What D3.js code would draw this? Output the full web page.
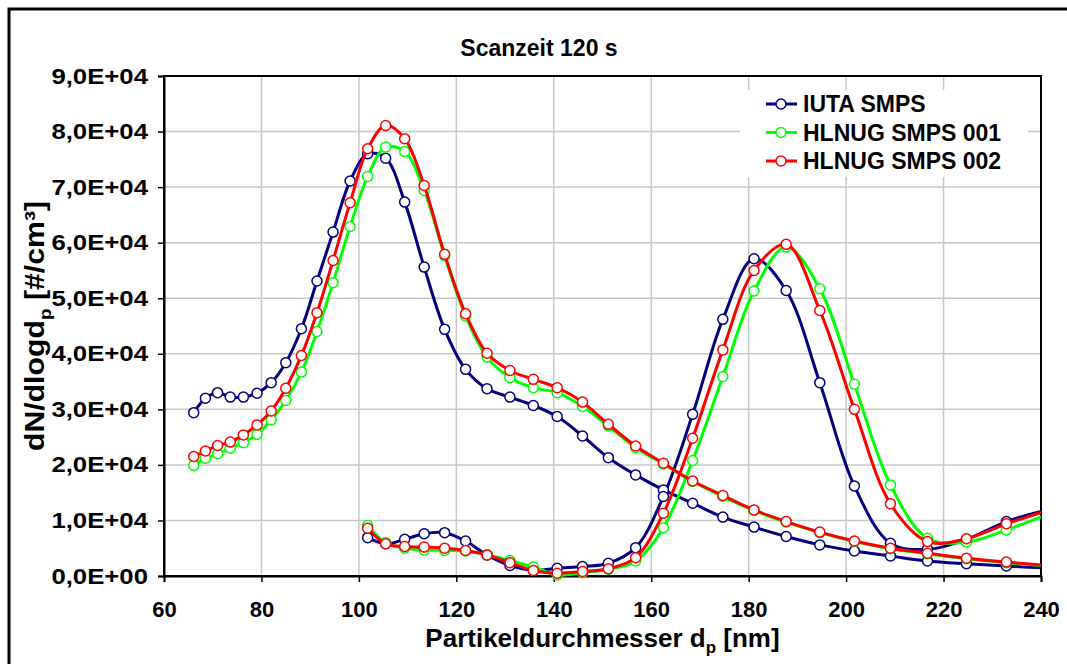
<!DOCTYPE html>
<html>
<head>
<meta charset="utf-8">
<script src="https://cdn.jsdelivr.net/npm/d3@7"></script>
<style>
  body { margin: 0; background: #fff; }
  svg text { font-family: Arial, "Liberation Sans", sans-serif; font-weight: bold; fill: #000; }
</style>
</head>
<body>
<div id="chart"></div>
<script>
// particle diameters (nm), one per SMPS channel
var diam = [66.1, 68.5, 71.0, 73.6, 76.3, 79.1, 82.0, 85.0, 88.2, 91.4, 94.7, 98.2,
            101.8, 105.5, 109.4, 113.4, 117.6, 121.9, 126.3, 131.0, 135.8, 140.7, 145.9,
            151.2, 156.8, 162.5, 168.5, 174.7, 181.1, 187.7, 194.6, 201.7, 209.1, 216.7,
            224.7, 232.9, 241.4];
// second scan starts at 101.8 nm
var diam2 = diam.slice(12);

// first scan
var iutaA = [29400, 32000, 33000, 32200, 32200, 32900, 34800, 38400, 44500, 53100, 61900, 71100,
             76000, 75200, 67300, 55600, 44400, 37200, 33700, 32200, 30700, 28700, 25200,
             21300, 18200, 15500, 13100, 10600, 8800, 7100, 5600, 4500, 3600, 2700,
             2200, 1800, 1400];
var hl001A = [19900, 21200, 22000, 23000, 24000, 25500, 28100, 31600, 36700, 44000, 52800, 62900,
              71900, 77200, 76400, 69400, 57600, 46800, 39400, 35700, 33900, 33000, 30500,
              27000, 23100, 20200, 17000, 14300, 11800, 9700, 7800, 6200, 4900, 4000,
              3100, 2400, 1800];
var hl002A = [21500, 22500, 23500, 24100, 25400, 27200, 29700, 33800, 39700, 47400, 56800, 67200,
              76900, 81100, 78700, 70300, 57900, 47200, 40100, 37000, 35400, 33900, 31300,
              27300, 23400, 20300, 17100, 14500, 11900, 9800, 7900, 6300, 5000, 4100,
              3200, 2500, 1900];
// second scan
var iutaB = [6900, 5800, 6600, 7600, 7800, 6300, 3800, 1900, 1000, 1400, 1700,
             2300, 5100, 14300, 29100, 46200, 57100, 51400, 34800, 16200, 5900, 4800,
             6600, 9800, 11900];
var hl001B = [9100, 6000, 5000, 4700, 4600, 4500, 3800, 2800, 1600, 200, 600,
              1200, 2700, 8700, 20800, 35900, 51300, 59200, 51700, 34500, 16400, 6800,
              6100, 8300, 11100];
var hl002B = [8600, 5800, 5300, 5200, 5000, 4600, 3800, 2400, 1000, 500, 800,
              1300, 3300, 11300, 24800, 40700, 55000, 59700, 47800, 30000, 13000, 6200,
              6700, 9400, 11800];

var seriesNames = ["IUTA SMPS", "HLNUG SMPS 001", "HLNUG SMPS 002"];
var seriesColors = ["#000080", "#00ff00", "#ff0000"];

var xTicks = [60, 80, 100, 120, 140, 160, 180, 200, 220, 240];
var yTicks = [0, 10000, 20000, 30000, 40000, 50000, 60000, 70000, 80000, 90000];
var yTickLabels = ["0,0E+00", "1,0E+04", "2,0E+04", "3,0E+04", "4,0E+04",
                   "5,0E+04", "6,0E+04", "7,0E+04", "8,0E+04", "9,0E+04"];

var W = 1067, H = 664;
var margin = {top: 76, right: 26, bottom: 88, left: 164},
    width = W - margin.left - margin.right,
    height = H - margin.top - margin.bottom;

var root = d3.select("#chart").append("svg")
    .attr("width", W).attr("height", H);

// outer frame
root.append("rect")
    .attr("x", 9).attr("y", 9).attr("width", W + 20).attr("height", H + 20)
    .attr("fill", "none").attr("stroke", "#000").attr("stroke-width", 3);

var svg = root.append("g")
    .attr("transform", "translate(" + margin.left + "," + margin.top + ")");

var x = d3.scaleLinear().domain([60, 240]).range([0, width]);
var y = d3.scaleLinear().domain([0, 90000]).range([height, 0]);

// grid
svg.append("g").selectAll("line").data(xTicks.slice(1, -1)).enter().append("line")
    .attr("x1", function(d) { return x(d); }).attr("x2", function(d) { return x(d); })
    .attr("y1", 0).attr("y2", height)
    .attr("stroke", "#c8c8c8").attr("stroke-width", 1.5);
svg.append("g").selectAll("line").data(yTicks.slice(1, -1)).enter().append("line")
    .attr("x1", 0).attr("x2", width)
    .attr("y1", function(d) { return y(d); }).attr("y2", function(d) { return y(d); })
    .attr("stroke", "#c8c8c8").attr("stroke-width", 1.5);

// plot frame
svg.append("rect").attr("width", width).attr("height", height)
    .attr("fill", "none").attr("stroke", "#000").attr("stroke-width", 2);

// axes
var xAxis = svg.append("g")
    .attr("transform", "translate(0," + height + ")")
    .call(d3.axisBottom(x).tickValues(xTicks).tickSize(6).tickPadding(19).tickFormat(d3.format("d")));
var yAxis = svg.append("g")
    .call(d3.axisLeft(y).tickValues(yTicks).tickSize(6).tickPadding(10)
      .tickFormat(function(d, i) { return yTickLabels[i]; }));
[xAxis, yAxis].forEach(function(a) {
  a.select(".domain").attr("stroke", "#000").attr("stroke-width", 2);
  a.selectAll(".tick line").attr("stroke", "#000").attr("stroke-width", 1.5);
  a.selectAll("text").attr("font-size", 22).attr("font-family", "Arial, 'Liberation Sans', sans-serif")
    .attr("font-weight", "bold").attr("fill", "#000");
});
// the y labels in the original are drawn a bit wider
yAxis.selectAll(".tick text").attr("x", -16 / 1.17).attr("transform", "scale(1.17,1)");

// data lines
svg.append("clipPath").attr("id", "clip")
  .append("rect").attr("x", -8).attr("y", -8).attr("width", width + 8).attr("height", height + 16);

var plot = svg.append("g").attr("clip-path", "url(#clip)");
var line = d3.line()
    .x(function(d) { return x(d[0]); })
    .y(function(d) { return y(d[1]); })
    .curve(d3.curveCatmullRom.alpha(0.5));

var groups = [
  [d3.zip(diam, iutaA), d3.zip(diam2, iutaB)],
  [d3.zip(diam, hl001A), d3.zip(diam2, hl001B)],
  [d3.zip(diam, hl002A), d3.zip(diam2, hl002B)]
];

groups.forEach(function(parts, s) {
  var g = plot.append("g");
  parts.forEach(function(pts) {
    g.append("path").datum(pts)
      .attr("fill", "none").attr("stroke", seriesColors[s]).attr("stroke-width", 3)
      .attr("d", line);
  });
  parts.forEach(function(pts) {
    g.selectAll(null).data(pts.filter(function(d) { return d[0] <= 240; })).enter().append("circle")
      .attr("cx", function(d) { return x(d[0]); })
      .attr("cy", function(d) { return y(d[1]); })
      .attr("r", 5)
      .attr("fill", "#fff").attr("stroke", seriesColors[s]).attr("stroke-width", 1.5);
  });
});

// legend
var legend = root.append("g").attr("transform", "translate(740,90)");
legend.append("rect").attr("x", 0).attr("y", 0).attr("width", 288).attr("height", 87).attr("fill", "#fff");
seriesNames.forEach(function(name, i) {
  var yy = 14 + i * 28.5;
  legend.append("line").attr("x1", 26).attr("x2", 57).attr("y1", yy).attr("y2", yy)
    .attr("stroke", seriesColors[i]).attr("stroke-width", 3);
  legend.append("circle").attr("cx", 41).attr("cy", yy).attr("r", 5)
    .attr("fill", "#fff").attr("stroke", seriesColors[i]).attr("stroke-width", 1.5);
  legend.append("text").attr("x", 63).attr("y", yy + 8).attr("font-size", 23).text(name);
});

// titles
root.append("text").attr("x", 539).attr("y", 56).attr("text-anchor", "middle")
    .attr("font-size", 23).text("Scanzeit 120 s");

var xt = root.append("text").attr("x", margin.left + width / 2).attr("y", 647)
    .attr("text-anchor", "middle").attr("font-size", 26);
xt.append("tspan").text("Partikeldurchmesser d");
xt.append("tspan").attr("font-size", 17).attr("dy", 6).text("p");
xt.append("tspan").attr("dy", -6).text(" [nm]");

var yt = root.append("text")
    .attr("transform", "translate(44," + (margin.top + height / 2) + ") rotate(-90) scale(1.12,1)")
    .attr("text-anchor", "middle").attr("font-size", 27);
yt.append("tspan").text("dN/dlogd");
yt.append("tspan").attr("font-size", 17).attr("dy", 7).text("p");
yt.append("tspan").attr("dy", -7).text(" [#/cm³]");
</script>
</body>
</html>
